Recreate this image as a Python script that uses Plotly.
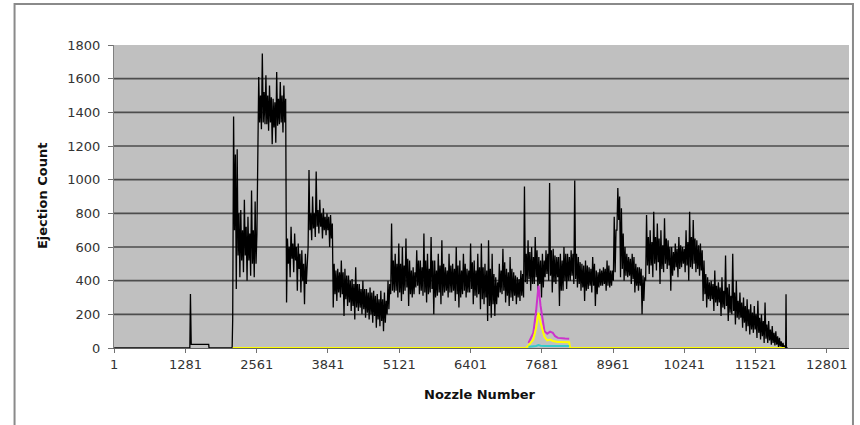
import plotly.graph_objects as go

# ---------------- data ----------------
x_tick_vals = [1, 1281, 2561, 3841, 5121, 6401, 7681, 8961, 10241, 11521, 12801]
y_tick_vals = [0, 200, 400, 600, 800, 1000, 1200, 1400, 1600, 1800]

# black series: leading part (before the dense block)
lead_x = [1, 1360, 1371, 1385, 1699, 1705, 2120]
lead_y = [0, 0, 320, 22, 22, 0, 0]

# dense block: per nozzle bin, outer envelope (lo/hi) and dense core (core_lo/core_hi)
bin_start = 2130
bin_step = 64.5
bin_lo = [170, 350, 420, 450, 400, 430, 420,
          1260, 1300, 1330, 1290, 1210, 1220, 1330, 1280,
          270, 420, 450, 340, 330, 260,
          600, 640, 660, 680, 650, 670, 600,
          240, 280, 300, 190, 250, 220, 170, 220, 200, 180, 170, 150, 120, 130, 100,
          200, 320, 330, 300, 280, 340, 250, 300, 360, 320, 310, 270, 330, 200, 310, 260,
          330, 300, 330, 280, 240, 320, 300, 330, 260, 300, 230, 260, 160, 180, 190, 300,
          320, 270, 250, 280, 260, 280,
          300, 380, 340, 380, 330, 300, 420, 400, 330, 380, 250, 340, 350, 400, 380, 360,
          340, 280, 350, 330, 250, 360, 370, 340, 360, 400, 700, 420, 400, 420, 380, 330,
          340, 200,
          400, 440, 420, 460, 380, 450, 470, 340, 460, 420, 480, 450, 400, 470, 450, 430,
          280, 240, 280, 220, 250, 190, 230, 160, 200, 140, 170, 120, 100, 80, 90, 60, 50,
          30, 30, 20, 15, 5, 0]
bin_hi = [1375, 1180, 820, 880, 780, 935, 870,
          1610, 1750, 1620, 1560, 1480, 1640, 1580, 1560,
          650, 720, 680, 620, 580, 560,
          1058, 900, 1048, 880, 830, 800, 790,
          500, 470, 520, 470, 430, 410, 480, 380, 400, 350, 360, 340, 320, 340, 330,
          400, 740, 560, 620, 600, 650, 520, 480, 580, 520, 680, 560, 660, 520, 560, 640,
          480, 560, 500, 600, 520, 560, 470, 620, 520, 560, 620, 500, 640, 560, 420, 500,
          590, 470, 540, 450, 420, 460,
          960, 640, 600, 660, 540, 560, 580, 980, 590, 540, 560, 600, 560, 580, 995, 540,
          500, 520, 480, 540, 460, 470, 480, 520, 460, 780, 950, 830, 600, 540, 560, 500,
          480, 430,
          790, 700, 810, 740, 700, 770, 640, 600, 620, 660, 600, 700, 810, 760, 640, 620,
          520, 420, 400, 460, 390, 420, 550, 380, 560, 400, 330, 300, 290, 260, 250, 280, 200,
          270, 160, 130, 100, 60, 30]
bin_core_lo = [700, 550, 520, 550, 520, 500, 500,
               1340, 1340, 1330, 1340, 1310, 1320, 1340, 1340,
               500, 530, 520, 470, 400, 380,
               700, 710, 720, 720, 700, 700, 650,
               320, 330, 320, 290, 270, 250, 240, 240, 230, 210, 200, 190, 170, 160, 150,
               230, 340, 340, 330, 320, 360, 320, 320, 370, 340, 330, 320, 350, 300, 330, 310,
               340, 330, 340, 320, 300, 340, 330, 350, 310, 320, 290, 300, 250, 260, 260, 330,
               340, 310, 300, 310, 300, 310,
               390, 410, 380, 420, 380, 360, 440, 430, 390, 420, 340, 400, 400, 430, 410, 380,
               360, 340, 370, 370, 320, 370, 380, 370, 370, 450, 760, 470, 430, 430, 410, 370,
               370, 280,
               490, 490, 500, 510, 470, 500, 490, 430, 480, 470, 500, 490, 480, 500, 470, 460,
               320, 290, 290, 270, 270, 240, 250, 210, 220, 180, 180, 150, 130, 110, 110, 90, 70,
               55, 45, 30, 20, 10, 0]
bin_core_hi = [1150, 800, 700, 720, 680, 700, 680,
               1500, 1520, 1500, 1490, 1460, 1480, 1500, 1480,
               600, 620, 600, 560, 500, 460,
               800, 800, 820, 800, 780, 780, 740,
               460, 450, 450, 430, 400, 380, 380, 350, 350, 330, 330, 310, 290, 290, 280,
               380, 520, 500, 500, 490, 530, 460, 450, 520, 480, 520, 470, 520, 460, 490, 500,
               460, 490, 470, 490, 460, 500, 460, 510, 460, 480, 480, 460, 470, 440, 390, 460,
               510, 450, 470, 430, 410, 440,
               560, 570, 540, 580, 520, 520, 560, 580, 550, 540, 520, 560, 540, 560, 560, 510,
               490, 490, 470, 500, 450, 460, 470, 490, 460, 700, 900, 680, 560, 530, 540, 480,
               470, 420,
               660, 630, 660, 650, 610, 650, 600, 570, 590, 610, 590, 630, 660, 650, 610, 580,
               440, 390, 380, 370, 360, 340, 360, 310, 330, 280, 270, 250, 230, 210, 200, 180, 160,
               140, 110, 90, 70, 40, 15]
assert len(bin_lo) == len(bin_hi) == len(bin_core_lo) == len(bin_core_hi)

# black series: trailing part
tail_x = [12050, 12062, 12069, 12076, 12100]
tail_y = [0, 0, 320, 0, 0]

# coloured series around the peak near nozzle 7600
peak_x = [7443, 7530, 7580, 7622, 7660, 7730, 7780, 7832, 7880, 7922, 7970, 8012, 8060, 8102, 8174]
magenta_y = [30, 90, 220, 370, 250, 100, 85, 97, 90, 70, 60, 58, 55, 56, 55]
yellow_y = [15, 50, 120, 210, 150, 65, 45, 50, 42, 38, 36, 36, 35, 34, 34]
cyan_y = [8, 10, 12, 18, 14, 12, 12, 12, 11, 12, 12, 11, 12, 12, 12]

# yellow series baseline (near zero outside the peak)
yellow_base_x = [2130, 7400]
yellow_base_y = [0, 0]
yellow_end_x = [8190, 12047]
yellow_end_y = [0, 0]

# ---------------- build series ----------------
black_x = list(lead_x)
black_y = list(lead_y)
for k in range(len(bin_lo)):
    xb = bin_start + k * bin_step
    black_x += [xb, xb + bin_step * 0.25, xb + bin_step * 0.5, xb + bin_step * 0.75]
    black_y += [bin_lo[k], bin_hi[k], bin_core_lo[k], bin_core_hi[k]]
black_x += tail_x
black_y += tail_y

yel_x = yellow_base_x + peak_x + yellow_end_x
yel_y = yellow_base_y + yellow_y + yellow_end_y

FONT = "DejaVu Sans"

fig = go.Figure()
fig.add_trace(go.Scatter(x=black_x, y=black_y, mode="lines",
                         line=dict(color="#000000", width=1.3), hoverinfo="skip"))
fig.add_trace(go.Scatter(x=peak_x, y=magenta_y, mode="lines",
                         line=dict(color="#CC33CC", width=2), hoverinfo="skip"))
fig.add_trace(go.Scatter(x=yel_x, y=yel_y, mode="lines",
                         line=dict(color="#FFFF00", width=2), hoverinfo="skip"))
fig.add_trace(go.Scatter(x=peak_x, y=cyan_y, mode="lines",
                         line=dict(color="#33CCCC", width=2), hoverinfo="skip"))

shapes = []
for v in y_tick_vals[1:-1]:
    shapes.append(dict(type="line", xref="paper", yref="y", x0=0, x1=1, y0=v, y1=v,
                       line=dict(color="#4d4d4d", width=1.6), layer="below"))
# outer chart frame
shapes.append(dict(type="rect", xref="paper", yref="paper",
                   x0=-0.1353, x1=1.0054, y0=-0.35, y1=1.1353,
                   line=dict(color="#8a8a8a", width=2), fillcolor="rgba(0,0,0,0)",
                   layer="above"))

fig.update_layout(
    width=860, height=425,
    margin=dict(l=113.5, r=11, t=45, b=77),
    paper_bgcolor="white",
    plot_bgcolor="#C0C0C0",
    showlegend=False,
    shapes=shapes,
    xaxis=dict(range=[-2, 13200], tickvals=x_tick_vals, ticktext=[str(v) for v in x_tick_vals],
               ticks="outside", ticklen=4, tickcolor="#707070",
               showline=True, linecolor="#606060", linewidth=1,
               showgrid=False, zeroline=False, layer="below traces",
               tickfont=dict(family=FONT, size=13, color="#333333")),
    yaxis=dict(range=[0, 1800], tickvals=y_tick_vals,
               ticks="outside", ticklen=5, tickcolor="#707070", ticklabelstandoff=5,
               showline=True, linecolor="#808080", linewidth=1,
               showgrid=False, zeroline=False,
               tickfont=dict(family=FONT, size=13, color="#333333")),
    annotations=[
        dict(text="<b>Ejection Count</b>", xref="paper", yref="paper",
             x=-0.0972, y=0.5, xanchor="center", yanchor="middle", textangle=-90,
             showarrow=False, font=dict(family=FONT, size=13, color="#111111")),
        dict(text="<b>Nozzle Number</b>", xref="paper", yref="paper",
             x=0.498, y=-0.155, xanchor="center", yanchor="middle",
             showarrow=False, font=dict(family=FONT, size=13, color="#111111")),
    ],
)

fig.write_html("out.html", config={"displayModeBar": False},
               post_script="document.body.style.margin='0';document.body.style.overflow='hidden';")
